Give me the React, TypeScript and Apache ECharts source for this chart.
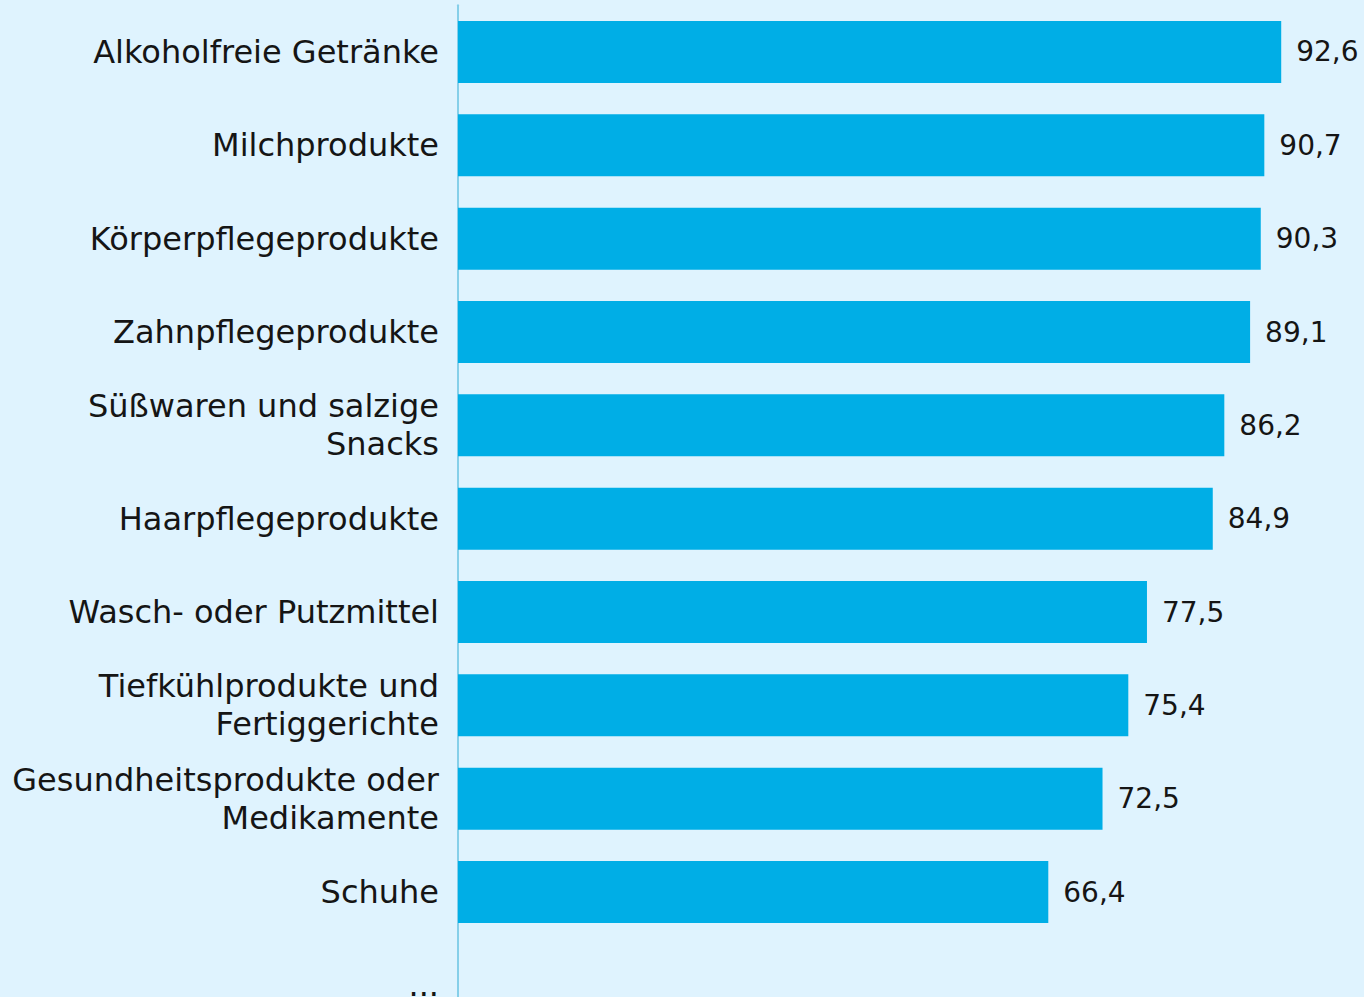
import React, { useEffect, useRef } from "react";
import * as echarts from "echarts";

const categories = [
  "Alkoholfreie Getränke",
  "Milchprodukte",
  "Körperpflegeprodukte",
  "Zahnpflegeprodukte",
  "Süßwaren und salzige\nSnacks",
  "Haarpflegeprodukte",
  "Wasch- oder Putzmittel",
  "Tiefkühlprodukte und\nFertiggerichte",
  "Gesundheitsprodukte oder\nMedikamente",
  "Schuhe",
  "...",
];
const values: (number | null)[] = [92.6, 90.7, 90.3, 89.1, 86.2, 84.9, 77.5, 75.4, 72.5, 66.4, null];

export default function App() {
  const ref = useRef<HTMLDivElement>(null);
  useEffect(() => {
    document.body.style.margin = "0";
    const chart = echarts.init(ref.current!, null, { renderer: "svg" });
    chart.setOption({
      animation: false,
      backgroundColor: "#dff3fe",
      grid: {
        left: 458,
        right: 17,
        top: 5.33,
        height: 1026.7,
        containLabel: false,
        outerBoundsMode: "none",
      },
      xAxis: { type: "value", min: 0, max: 100, show: false },
      yAxis: {
        type: "category",
        data: categories,
        inverse: true,
        axisLine: { show: true, lineStyle: { color: "#86cfe9", width: 2 } },
        axisTick: { show: false },
        axisLabel: {
          margin: 19,
          fontFamily: "DejaVu Sans",
          fontSize: 32,
          color: "#151515",
          lineHeight: 38,
          align: "right",
          padding: [5, 0, 0, 0],
        },
      },
      series: [
        {
          type: "bar",
          data: values,
          barWidth: 62,
          itemStyle: { color: "#00aee6" },
          label: {
            show: true,
            position: "right",
            distance: 15,
            fontFamily: "DejaVu Sans",
            fontSize: 28,
            color: "#151515",
            padding: [5, 0, 0, 0],
            formatter: (p: any) => (p.value == null ? "" : String(p.value).replace(".", ",")),
          },
        },
      ],
    });
    return () => chart.dispose();
  }, []);
  return <div ref={ref} style={{ width: 1364, height: 997 }} />;
}
